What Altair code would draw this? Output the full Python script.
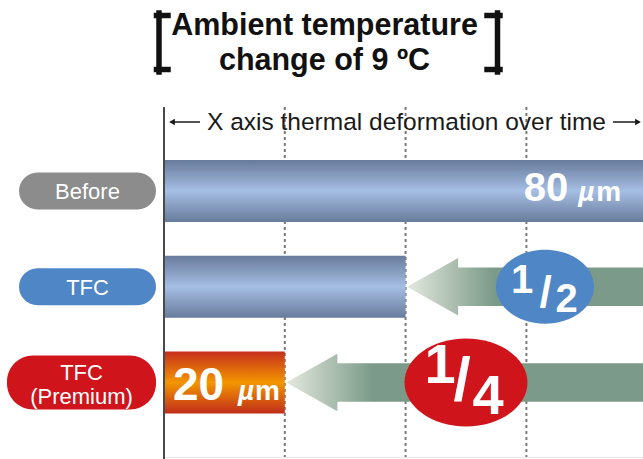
import altair as alt
import pandas as pd

# ---------------- data ----------------
categories = ["Before", "TFC", "TFC\n(Premium)"]
deformation_um = [80, 40, 20]
reduction_num = ["", "1", "1"]
reduction_den = ["", "2", "4"]
grid_ticks = [20, 40, 60]
title_lines = ["Ambient temperature", "change of 9 ºC"]
axis_caption = "X axis thermal deformation over time"

FONT = "Liberation Sans"
W, H = 643, 459
X_SCALE = alt.Scale(domain=[-27.152, 79.305], nice=False, zero=False)
Y_SCALE = alt.Scale(domain=[-1.995, 2.799], reverse=True, nice=False, zero=False)

df = pd.DataFrame({"category": categories, "value": deformation_um,
                   "row": list(range(len(categories))),
                   "num": reduction_num, "den": reduction_den})


def X(f):
    return alt.X(f, scale=X_SCALE, axis=None)


def Y(f):
    return alt.Y(f, scale=Y_SCALE, axis=None)


def vgrad(stops, horizontal=False):
    return alt.LinearGradient(
        gradient="linear",
        x1=0, y1=0, x2=1 if horizontal else 0, y2=0 if horizontal else 1,
        stops=[alt.GradientStop(offset=o, color=c) for o, c in stops])


layers = []

# grid lines
layers.append(
    alt.Chart(pd.DataFrame({"tick": grid_ticks})).mark_rule(
        color="#7a7a7a", strokeWidth=2, strokeDash=[3, 3]
    ).encode(x=X("tick:Q"), y=alt.value(107), y2=alt.value(459))
)
# faint bottom line
layers.append(
    alt.Chart(df.head(1)).mark_rule(color="#e8e8e8", strokeWidth=1).encode(
        x=alt.value(164), x2=alt.value(643), y=alt.value(457.5))
)

# bars
bars = alt.Chart(df).transform_calculate(
    x0="0", y0="datum.row - 0.324", y1="datum.row + 0.324")
blue = vgrad([(0, "#687b9b"), (0.5, "#a5bee3"), (1, "#687b9b")])
orange = vgrad([(0, "#c62e1c"), (0.5, "#f39600"), (1, "#c02c1a")])
for cond, grad in [("datum.row < 2", blue), ("datum.row == 2", orange)]:
    layers.append(
        bars.transform_filter(cond).mark_rect(color=grad, clip=True).encode(
            x=X("x0:Q"), x2="value:Q", y=Y("y0:Q"), y2="y1:Q")
    )

# reduction arrows (area polygons) built from the values
for r, solid_at in [(1, 0.36), (2, 0.24)]:
    v = deformation_um[r]
    tip = v + 0.25
    base = tip + 8.45
    end = 80
    pts = pd.DataFrame({
        "x": [tip, base, base + 0.001, end],
        "lo": [r, r - 0.30, r - 0.20, r - 0.20],
        "hi": [r, r + 0.30, r + 0.20, r + 0.20],
    })
    g = vgrad([(0, "#e4e9e0"), (solid_at * 0.55, "#aabdae"),
               (solid_at, "#7b9a89"), (1, "#7b9a89")], horizontal=True)
    layers.append(
        alt.Chart(pts).mark_area(color=g, clip=True).encode(
            x=X("x:Q"), y=Y("lo:Q"), y2="hi:Q")
    )

# ellipses with fractions
ell = [
    # row, centre x (um), width px, ratio, colour, digit font, slash font, glyph offsets
    (1, 63.08, 98, 0.755, "#4f86c6", 40, 44,
     [(-23, 6), (0.5, 20.5), (21.5, 25.5)]),
    (2, 50.0, 123, 0.715, "#d0141c", 56, 62,
     [(-26, 0.5), (-4, 17), (22, 31)]),
]
for r, cx, wpx, ratio, col, fs, fsl, offs in ell:
    d = df[df.row == r].assign(cx=cx)
    path = f"M-1,0A1,{ratio},0,1,1,1,0A1,{ratio},0,1,1,-1,0Z"
    layers.append(
        alt.Chart(d).mark_point(shape=path, filled=True, opacity=1,
                                size=wpx * wpx, color=col, strokeWidth=0).encode(
            x=X("cx:Q"), y=Y("row:Q"))
    )
    glyphs = [(d["num"].iloc[0], fs), ("/", fsl), (d["den"].iloc[0], fs)]
    for (gtxt, gfs), (dx, dy) in zip(glyphs, offs):
        layers.append(
            alt.Chart(d).mark_text(text=gtxt, font=FONT, fontWeight="bold",
                                   fontSize=gfs, color="white", align="center",
                                   baseline="alphabetic", dx=dx, dy=dy).encode(
                x=X("cx:Q"), y=Y("row:Q"))
        )

# bar value labels
lab = [
    (0, 80, 40, 28, [(-79, "right", "num"), (-69, "left", "mu"), (-51, "left", "m")], 10),
    (2, 0, 46, 28, [(9, "left", "num"), (74, "left", "mu"), (91, "left", "m")], 17.5),
]
for r, ax, fnum, fmu, parts, dy in lab:
    d = df[df.row == r].assign(ax=ax)
    for dx, al, kind in parts:
        if kind == "num":
            t, fsz, sty = str(deformation_um[r]), fnum, "normal"
        elif kind == "mu":
            t, fsz, sty = "µ", fmu, "italic"
        else:
            t, fsz, sty = "m", fmu, "normal"
        layers.append(
            alt.Chart(d).mark_text(text=t, font=FONT, fontWeight="bold",
                                   fontStyle=sty, fontSize=fsz, color="white",
                                   align=al, baseline="alphabetic",
                                   dx=dx, dy=dy).encode(
                x=X("ax:Q"), y=Y("row:Q"))
        )

# category pills
pill_cols = ["#8c8c8c", "#4f86c6", "#d0141c"]
pills = df.assign(pc=pill_cols)
for cond, half, x0, rad, tx, tdy in [("datum.row < 2", 0.193, 19, 18.5, 87.5, 1),
                                     ("datum.row == 2", 0.282, 7, 26, 81.5, -10)]:
    base_p = alt.Chart(pills).transform_filter(cond).transform_calculate(
        p0=f"datum.row - {half}", p1=f"datum.row + {half}")
    layers.append(
        base_p.mark_rect(cornerRadius=rad).encode(
            x=alt.value(x0), x2=alt.value(156), y=Y("p0:Q"), y2="p1:Q",
            color=alt.Color("pc:N", scale=None))
    )
    layers.append(
        alt.Chart(pills).transform_filter(cond).mark_text(
            font=FONT, fontSize=22, color="white", align="center",
            baseline="middle", lineBreak="\n", lineHeight=24, dy=tdy).encode(
            x=alt.value(tx), y=Y("row:Q"), text="category:N")
    )

# vertical axis line
layers.append(
    alt.Chart(df.head(1)).mark_rule(color="#4a4a4a", strokeWidth=2).encode(
        x=alt.X(datum=0, scale=X_SCALE, axis=None), y=alt.value(107), y2=alt.value(459))
)

one = df.head(1)
# header caption with arrows
layers.append(
    alt.Chart(one).mark_text(text=axis_caption, font=FONT, fontSize=24.5,
                             color="#1a1a1a", align="left",
                             baseline="alphabetic").encode(
        x=alt.value(207), y=alt.value(130))
)
for xa, xb in [(172, 200), (613, 638)]:
    layers.append(
        alt.Chart(one).mark_rule(color="#1a1a1a", strokeWidth=1.5).encode(
            x=alt.value(xa), x2=alt.value(xb), y=alt.value(122))
    )
for xp, shp in [(172, "triangle-left"), (638, "triangle-right")]:
    layers.append(
        alt.Chart(one).mark_point(shape=shp, filled=True, size=45,
                                  color="#1a1a1a", opacity=1).encode(
            x=alt.value(xp), y=alt.value(122))
    )

# title
for t, yb in zip(title_lines, [35, 70]):
    layers.append(
        alt.Chart(one).mark_text(text=t, font=FONT, fontSize=30.5,
                                 fontWeight="bold", color="#111111",
                                 align="center", baseline="alphabetic").encode(
            x=alt.value(324.5), y=alt.value(yb))
    )
# brackets
br = []
for xv, xs0, xs1 in [(159, 156.5, 168), (497.5, 487, 500)]:
    br.append(dict(x=xv, x2=xv, y=13, y2=72))
    br.append(dict(x=xs0, x2=xs1, y=15.5, y2=15.5))
    br.append(dict(x=xs0, x2=xs1, y=69.5, y2=69.5))
for b in br:
    layers.append(
        alt.Chart(one).mark_rule(color="#111111", strokeWidth=5.5,
                                 strokeCap="square").encode(
            x=alt.value(b["x"]), x2=alt.value(b["x2"]),
            y=alt.value(b["y"]), y2=alt.value(b["y2"]))
    )

chart = alt.layer(*layers).properties(
    width=W, height=H,
    autosize=alt.AutoSizeParams(type="none"),
    padding=0,
    background="white",
).configure_view(stroke=None)

chart.save("out.html", embed_options={"renderer": "svg", "actions": False})
